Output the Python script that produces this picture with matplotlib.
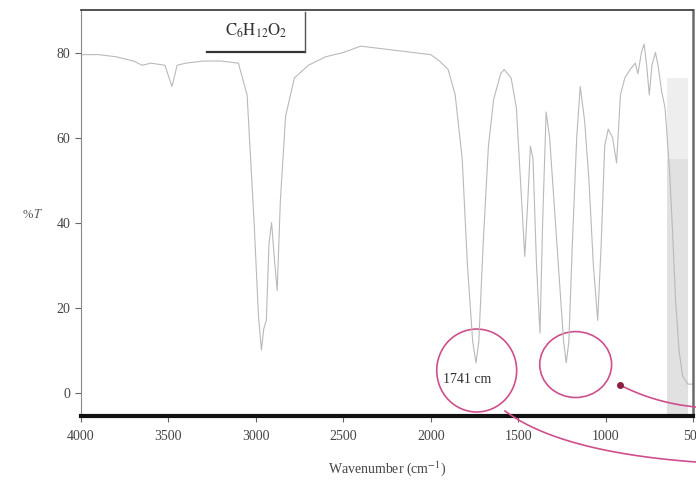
import matplotlib.pyplot as plt
import numpy as np
from matplotlib.patches import Ellipse


plt.rcParams['font.family'] = ['Liberation Serif', 'DejaVu Serif']
plt.rcParams['mathtext.fontset'] = 'stix'

# spectrum (wavenumber in cm-1, %T)
wavenumber = [4000, 3900, 3800, 3700, 3650, 3600, 3520, 3480, 3450, 3400,
              3300, 3200, 3100, 3050, 3010, 2985, 2968, 2955, 2940, 2925,
              2910, 2895, 2878, 2860, 2830, 2780, 2700, 2600, 2500, 2400,
              2300, 2200, 2100, 2000, 1950, 1900, 1860, 1820, 1790, 1760,
              1741, 1725, 1700, 1670, 1640, 1600, 1580, 1540, 1510, 1480,
              1462, 1445, 1430, 1415, 1395, 1375, 1360, 1340, 1320, 1295,
              1270, 1240, 1225, 1210, 1190, 1165, 1145, 1120, 1095, 1070,
              1045, 1025, 1005, 985, 960, 937, 915, 890, 860, 830,
              815, 795, 780, 765, 750, 735, 715, 700, 680, 660,
              651, 634, 617, 600, 580, 560, 530, 500]
transmittance = [79.5, 79.5, 79, 78, 77, 77.5, 77, 72, 77, 77.5,
                 78, 78, 77.5, 70, 40, 18, 10, 15, 17, 35,
                 40, 32, 24, 45, 65, 74, 77, 79, 80, 81.5,
                 81, 80.5, 80, 79.5, 78, 76, 70, 55, 30, 12,
                 7, 12, 35, 58, 69, 75, 76, 74, 67, 45,
                 32, 45, 58, 55, 30, 14, 40, 66, 60, 45,
                 30, 12, 7, 12, 35, 60, 72, 64, 50, 30,
                 17, 35, 58, 62, 60, 54, 70, 74, 76, 77.5,
                 75, 80, 82, 77, 70, 77, 80, 77, 71, 67,
                 62, 52, 38, 22, 10, 4, 2, 2]

x_ticks = [4000, 3500, 3000, 2500, 2000, 1500, 1000, 500]
y_ticks = [0, 20, 40, 60, 80]
formula = r'$\mathrm{C_6H_{12}O_2}$'
peak_label = '1741 cm'

fig = plt.figure(figsize=(6.96, 4.82), dpi=100)
ax = fig.add_axes([81/696, 66/482, 612/696, 406/482])

# scan shading at the right edge (fades towards the top)
ax.fill_between([650, 530], -5.5, 55, color='#bdbdbd', alpha=0.45, lw=0)
ax.fill_between([650, 530], 55, 74, color='#bdbdbd', alpha=0.25, lw=0)

ax.plot(wavenumber, transmittance, color='#b9b9b9', lw=0.8)

ax.set_xlim(4000, 500)
ax.set_ylim(-5.5, 90)
ax.set_xticks(x_ticks)
ax.set_yticks(y_ticks)
ax.tick_params(axis='both', direction='out', length=4, width=0.8,
               colors='#666666', labelcolor='#444444', labelsize=10)
ax.tick_params(axis='x', pad=6)

ax.spines['bottom'].set_linewidth(3)
ax.spines['bottom'].set_color('#111111')
ax.spines['left'].set_linewidth(0.8)
ax.spines['left'].set_color('#888888')
ax.spines['top'].set_linewidth(1.3)
ax.spines['top'].set_color('#444444')
ax.spines['right'].set_linewidth(1.8)
ax.spines['right'].set_color('#6a6a6a')

ax.set_xlabel(r'Wavenumber (cm$^{-1}$)', fontsize=10, color='#444444', labelpad=12)
fig.text(22/696, 1 - 215/482, r'%$\,T$', fontsize=9, color='#555555',
         ha='left', va='center')

# formula box in the top left
ax.text(256/696, 1 - 31/482, formula, transform=fig.transFigure,
        fontsize=12, color='#333333', ha='center', va='center')
fig.add_artist(plt.Line2D([207/696, 305/696], [1 - 52/482, 1 - 52/482],
                          color='#333333', lw=1.6))
fig.add_artist(plt.Line2D([305/696, 305/696], [1 - 12/482, 1 - 52/482],
                          color='#555555', lw=1.0))

# hand-written note and pink circles
ax.text(1789, 3.2, peak_label, fontsize=10, color='#333333',
        ha='center', va='center')
pink = '#cf4f8c'
ax.add_patch(Ellipse((1737, 5.2), 457, 19.5, fill=False, ec=pink, lw=1.2,
                     clip_on=False))
ax.add_patch(Ellipse((1171, 6.6), 411, 15.5, fill=False, ec=pink, lw=1.2,
                     clip_on=False))

t = np.linspace(0, 1, 60)
p0, p1, p2 = np.array([505, 411]), np.array([560, 452]), np.array([696, 462])
curve = ((1 - t)**2)[:, None] * p0 + (2*t*(1 - t))[:, None] * p1 + (t**2)[:, None] * p2
fig.add_artist(plt.Line2D(curve[:, 0]/696, 1 - curve[:, 1]/482, color=pink, lw=1.2))
p0, p1, p2 = np.array([620, 385]), np.array([655, 403]), np.array([696, 407])
curve = ((1 - t)**2)[:, None] * p0 + (2*t*(1 - t))[:, None] * p1 + (t**2)[:, None] * p2
fig.add_artist(plt.Line2D(curve[:, 0]/696, 1 - curve[:, 1]/482, color=pink, lw=1.2))
fig.add_artist(plt.Line2D([620/696], [1 - 385/482], marker='o', ms=4,
                          color='#8a2040'))

fig.savefig('out.png', dpi=100)
